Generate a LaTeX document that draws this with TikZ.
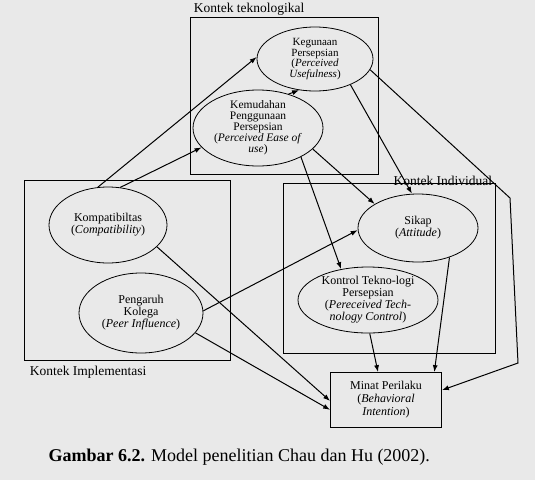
\documentclass[tikz,border=0pt]{standalone}
\usepackage{fontspec}
\setmainfont{Liberation Serif}
\usetikzlibrary{arrows.meta,positioning,shapes.geometric}

\begin{document}
\begin{tikzpicture}[x=1pt, y=-1pt, >={Latex[length=7pt,width=5pt]},
  every node/.style = {font=\fontsize{12}{12}\selectfont},
  construct/.style  = {ellipse, draw, thick, inner sep=-7pt, align=center},
  outcome/.style    = {rectangle, draw, thick, align=center,
                       minimum width=111pt, minimum height=55pt},
  context/.style    = {rectangle, draw, thick, inner sep=0pt},
  ctxlabel/.style   = {font=\fontsize{13.5}{15}\selectfont, inner sep=1pt},
  arrow/.style      = {->, line width=1pt},
]
  \fill[gray!17] (0,0) rectangle (535,480);
  \useasboundingbox (0,0) rectangle (535,480);

  % context boxes
  \node[context, minimum width=188pt, minimum height=157pt] (techbox) at (284,96) {};
  \node[context, minimum width=212pt, minimum height=170pt] (indbox) at (389,268) {};
  \node[context, minimum width=206pt, minimum height=180pt] (implbox) at (127,270) {};
  \node[ctxlabel, anchor=south west, xshift=3pt] (techlbl)
    at (techbox.north west) {Kontek teknologikal};
  \node[ctxlabel, anchor=east, xshift=-2pt, yshift=2pt] (indlbl)
    at (indbox.north east) {Kontek Individual};
  \node[ctxlabel, anchor=north west, xshift=5pt, yshift=-5pt] (impllbl)
    at (implbox.south west) {Kontek Implementasi};

  % constructs
  \node[construct, minimum width=116pt, minimum height=64pt,
        font=\fontsize{11}{10.5}\selectfont] (useful) at (315,59)
    {Kegunaan\\Persepsian\\(\textit{Perceived}\\\textit{Usefulness})};
  \node[construct, minimum width=130pt, minimum height=76pt,
        font=\fontsize{11.5}{11}\selectfont] (ease) at (258,128)
    {Kemudahan\\Penggunaan\\Persepsian\\(\textit{Perceived Ease of}\\\textit{use})};
  \node[construct, minimum width=118pt, minimum height=76pt] (compat) at (108,225)
    {Kompatibiltas\\(\textit{Compatibility})};
  \node[construct, minimum width=124pt, minimum height=80pt] (peer) at (141,313)
    {Pengaruh\\Kolega\\(\textit{Peer Influence})};
  \node[construct, minimum width=120pt, minimum height=68pt] (attitude) at (418,228)
    {Sikap\\(\textit{Attitude})};
  \node[construct, minimum width=140pt, minimum height=66pt] (control) at (368,300)
    {Kontrol Tekno-logi\\Persepsian\\(\textit{Pereceived Tech-}\\\textit{nology Control})};
  \node[outcome, font=\fontsize{12}{13}\selectfont] (intent) at (386,400)
    {Minat Perilaku\\(\textit{Behavioral}\\\textit{Intention})};

  \coordinate (bendA) at (510,198);
  \coordinate (bendB) at (518,363);

  \draw[arrow] (compat.105) -- (useful.178);
  \draw[arrow] (compat.72) -- (ease.199);
  \draw[arrow] (ease.48) -- (useful.243);
  \draw[arrow] (ease.326) -- (control.131);
  \draw[arrow] (ease.339) -- (attitude.151);
  \draw[arrow] (useful.324) -- (attitude.100);
  \draw[arrow] (useful.349) -- (bendA) -- (bendB) -- (intent.10);
  \draw[arrow] (compat.336) -- (intent.181);
  \draw[arrow] (peer.2) -- (attitude.182);
  \draw[arrow] (peer.340) -- (intent.190);
  \draw[arrow] (control.273) -- (intent.106);
  \draw[arrow] (attitude.317) -- (intent.30);

  \node[font=\fontsize{18}{20}\selectfont, anchor=west] (caption) at (45,457)
    {\textbf{Gambar 6.2.} Model penelitian Chau dan Hu (2002).};
\end{tikzpicture}
\end{document}
